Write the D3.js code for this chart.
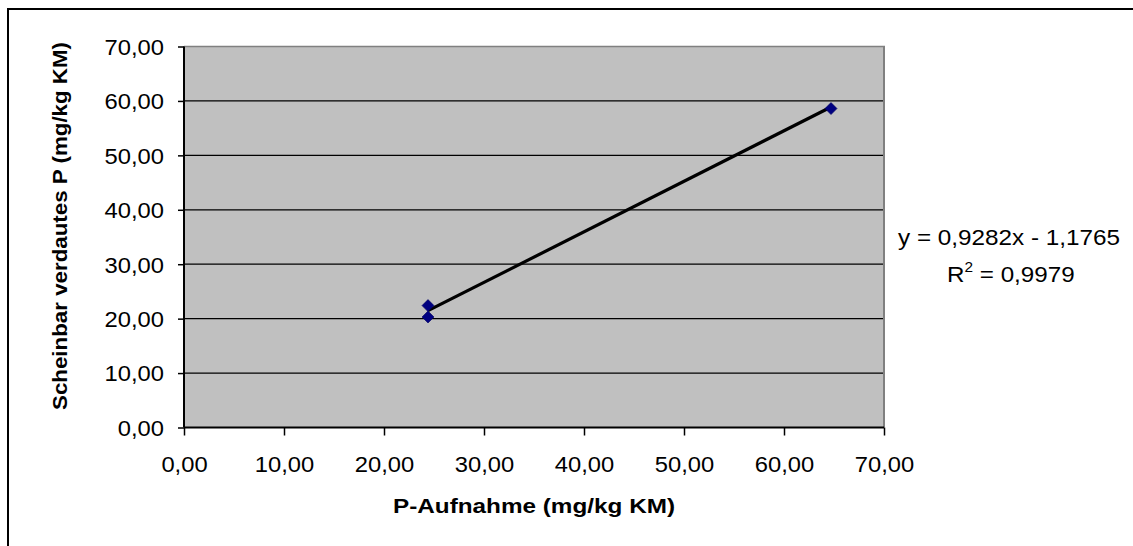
<!DOCTYPE html>
<html>
<head>
<meta charset="utf-8">
<script src="https://cdn.jsdelivr.net/npm/d3@7"></script>
<style>
  html, body { margin: 0; padding: 0; background: #ffffff; }
  svg { display: block; }
  text { font-family: "Liberation Sans", Arial, sans-serif; fill: #000; }
</style>
</head>
<body>
<svg id="chart" width="1133" height="546"></svg>
<script>
// ---- Data ----
const pAufnahme = [24.4, 24.4, 64.7];          // x values (mg/kg KM)
const pVerdaut  = [22.4, 20.3, 58.6];          // y values (mg/kg KM)
const xTicks = [0, 10, 20, 30, 40, 50, 60, 70];
const yTicks = [0, 10, 20, 30, 40, 50, 60, 70];
const trendSlope = 0.9282;
const trendIntercept = -1.1765;
const equationText = "y = 0,9282x - 1,1765";
const r2Value = "0,9979";
const xTitle = "P-Aufnahme (mg/kg KM)";
const yTitle = "Scheinbar verdautes P (mg/kg KM)";

// ---- Layout ----
const plot = { left: 184, right: 884, top: 46.5, bottom: 427.5 };
const svg = d3.select("#chart");

const fmt = v => d3.format(".2f")(v).replace(".", ",");

const x = d3.scaleLinear().domain([0, 70]).range([plot.left, plot.right]);
const y = d3.scaleLinear().domain([0, 70]).range([plot.bottom, plot.top]);

function stretch(sel, k) {
  sel.each(function() {
    const len = this.getComputedTextLength();
    d3.select(this).attr("textLength", len * k).attr("lengthAdjust", "spacingAndGlyphs");
  });
}

// Outer chart border
svg.append("rect")
  .attr("x", 8).attr("y", 9).attr("width", 1200).attr("height", 600)
  .attr("fill", "none").attr("stroke", "#000").attr("stroke-width", 2);

// Plot background
svg.append("rect")
  .attr("x", plot.left).attr("y", plot.top)
  .attr("width", plot.right - plot.left).attr("height", plot.bottom - plot.top)
  .attr("fill", "#c0c0c0");

// Gridlines
svg.append("g").selectAll("line")
  .data(yTicks.filter(t => t > 0 && t < 70))
  .join("line")
  .attr("x1", plot.left).attr("x2", plot.right)
  .attr("y1", d => y(d)).attr("y2", d => y(d))
  .attr("stroke", "#000").attr("stroke-width", 1.3);

// Top & right plot border (gray)
svg.append("line").attr("x1", plot.left).attr("x2", plot.right + 1)
  .attr("y1", plot.top).attr("y2", plot.top)
  .attr("stroke", "#808080").attr("stroke-width", 1.5);
svg.append("line").attr("x1", plot.right).attr("x2", plot.right)
  .attr("y1", plot.top).attr("y2", plot.bottom)
  .attr("stroke", "#808080").attr("stroke-width", 2);

// Axes
const xAxis = d3.axisBottom(x).tickValues(xTicks).tickSize(8).tickFormat(fmt);
const gx = svg.append("g").attr("transform", `translate(0,${plot.bottom})`).call(xAxis);
gx.select(".domain").attr("stroke", "#000").attr("stroke-width", 2).attr("d", `M${plot.left},0H${plot.right}`);
gx.selectAll(".tick line").attr("stroke", "#000").attr("stroke-width", 1.5);
gx.selectAll(".tick text")
  .attr("font-size", 22).attr("font-family", "Liberation Sans, Arial, sans-serif")
  .attr("fill", "#000").attr("dy", null).attr("y", 44.5);

const yAxis = d3.axisLeft(y).tickValues(yTicks).tickSize(6).tickFormat(fmt);
const gy = svg.append("g").attr("transform", `translate(${plot.left},0)`).call(yAxis);
gy.select(".domain").attr("stroke", "#000").attr("stroke-width", 2).attr("d", `M0,${plot.top}V${plot.bottom}`);
gy.selectAll(".tick line").attr("stroke", "#000").attr("stroke-width", 1.5);
gy.selectAll(".tick text")
  .attr("font-size", 22).attr("font-family", "Liberation Sans, Arial, sans-serif")
  .attr("fill", "#000").attr("dy", "0.36em").attr("x", -20);

stretch(gx.selectAll(".tick text"), 1.08);
stretch(gy.selectAll(".tick text"), 1.08);

// Trendline
const xMin = d3.min(pAufnahme), xMax = d3.max(pAufnahme);
svg.append("line")
  .attr("x1", x(xMin)).attr("y1", y(trendSlope * xMin + trendIntercept))
  .attr("x2", x(xMax)).attr("y2", y(trendSlope * xMax + trendIntercept))
  .attr("stroke", "#000").attr("stroke-width", 3.2);

// Diamond markers
const pts = pAufnahme.map((v, i) => [v, pVerdaut[i]]);
const r = 6;
svg.append("g").selectAll("path")
  .data(pts).join("path")
  .attr("d", d => {
    const cx = x(d[0]), cy = y(d[1]);
    return `M${cx},${cy - r}L${cx + r},${cy}L${cx},${cy + r}L${cx - r},${cy}Z`;
  })
  .attr("fill", "#000080").attr("stroke", "#000060").attr("stroke-width", 0.6);

// Axis titles
svg.append("text")
  .attr("x", 534).attr("y", 513).attr("text-anchor", "middle")
  .attr("font-size", 21).attr("font-weight", "bold").text(xTitle)
  .attr("textLength", 282).attr("lengthAdjust", "spacingAndGlyphs");

svg.append("text")
  .attr("transform", `translate(67,226) rotate(-90)`)
  .attr("text-anchor", "middle")
  .attr("font-size", 21).attr("font-weight", "bold").text(yTitle)
  .attr("textLength", 368).attr("lengthAdjust", "spacingAndGlyphs");

// Trendline equation
svg.append("text")
  .attr("x", 1009).attr("y", 245).attr("text-anchor", "middle")
  .attr("font-size", 22).text(equationText)
  .attr("textLength", 222).attr("lengthAdjust", "spacingAndGlyphs");

const r2 = svg.append("text")
  .attr("x", 947).attr("y", 281.7).attr("text-anchor", "start")
  .attr("font-size", 22);
r2.append("tspan").text("R");
r2.append("tspan").attr("font-size", 14).attr("dy", -10).text("2");
r2.append("tspan").attr("dy", 10).text(" = " + r2Value);
stretch(r2, 1.1);
</script>
</body>
</html>
